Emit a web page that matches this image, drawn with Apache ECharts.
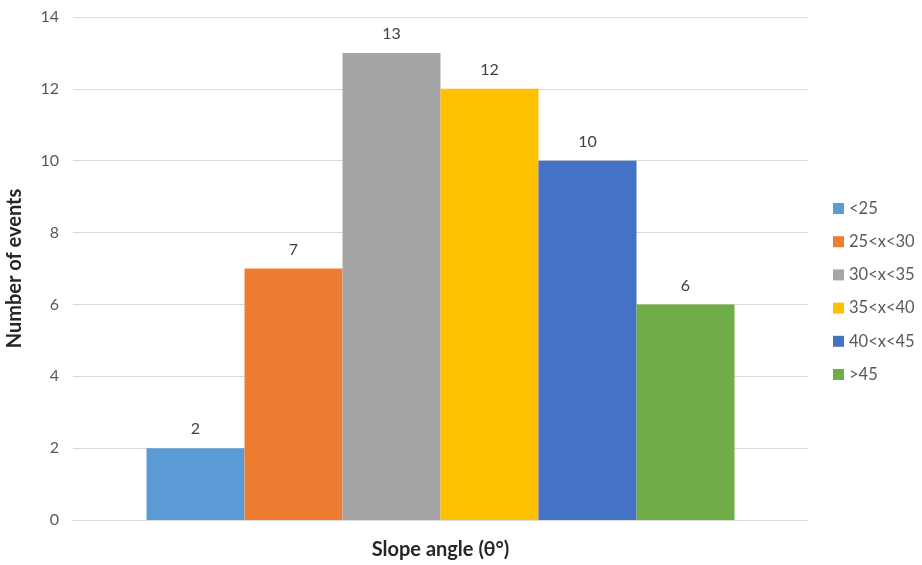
<!DOCTYPE html>
<html><head><meta charset="utf-8">
<script src="https://cdn.jsdelivr.net/npm/echarts@6/dist/echarts.min.js"></script>
<style>html,body{margin:0;padding:0;background:#fff}#c{width:922px;height:565px}</style>
</head><body><div id="c"></div>
<script>
const categories = [''];
const seriesNames = ['<25', '25<x<30', '30<x<35', '35<x<40', '40<x<45', '>45'];
const seriesValues = [2, 7, 13, 12, 10, 6];
const seriesColors = ['#5B9BD5', '#ED7D31', '#A5A5A5', '#FFC000', '#4472C4', '#70AD47'];
const yTicks = [0, 2, 4, 6, 8, 10, 12, 14];

const chart = echarts.init(document.getElementById('c'));
const font = 'Lato, "Open Sans", sans-serif';
chart.setOption({
  animation: false,
  textStyle: { fontFamily: font },
  grid: { left: 73, right: 114, top: 17, bottom: 45, containLabel: false, outerBoundsMode: 'none' },
  legend: {
    orient: 'vertical', left: 828, top: 195, itemWidth: 11, itemHeight: 11, itemGap: 16.2,
    icon: 'rect',
    textStyle: { fontSize: 16.5, color: '#595959', fontFamily: font },
    data: seriesNames
  },
  xAxis: {
    type: 'category', data: categories,
    name: 'Slope angle (θ°)', nameLocation: 'middle', nameGap: 20,
    nameTextStyle: { fontSize: 20, fontWeight: 'bold', color: '#262626', fontFamily: font },
    axisLine: { lineStyle: { color: '#D9D9D9' } },
    axisTick: { show: false }, axisLabel: { show: false }
  },
  yAxis: {
    type: 'value', min: yTicks[0], max: yTicks[yTicks.length - 1], interval: 2,
    name: 'Number of events', nameLocation: 'middle', nameGap: 48,
    nameTextStyle: { fontSize: 20, fontWeight: 'bold', color: '#262626', fontFamily: font },
    axisLabel: { fontSize: 16, color: '#595959', margin: 14 },
    splitLine: { lineStyle: { color: '#D9D9D9' } },
    axisLine: { show: false }, axisTick: { show: false }
  },
  series: seriesNames.map((n, i) => ({
    name: n, type: 'bar', data: [seriesValues[i]],
    barGap: '0%', barCategoryGap: '20%',
    itemStyle: { color: seriesColors[i] },
    label: { show: true, position: 'top', distance: 11, fontSize: 16, color: '#404040', fontFamily: font }
  }))
});
</script></body></html>
